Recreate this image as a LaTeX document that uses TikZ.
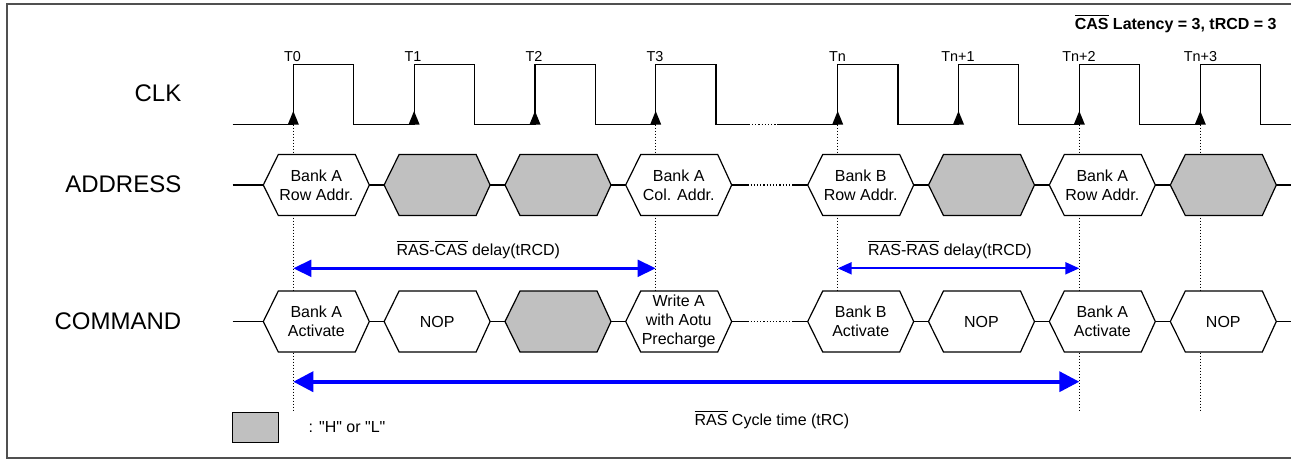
\documentclass[tikz,border=0pt]{standalone}
\usepackage{fontspec}
\setmainfont{Liberation Sans}[Ligatures=TeXOff]
\usepackage{tikz}
\usetikzlibrary{arrows.meta}
\usepackage{xcolor}
\definecolor{hl}{HTML}{C0C0C0}
\definecolor{framegray}{HTML}{505050}

\tikzset{
  wave/.style={line width=0.6pt},
  tick/.style={densely dotted,line width=0.5pt},
  hextext/.style={align=center,font=\fontsize{8}{9.4}\selectfont,inner sep=0pt},
  rowlabel/.style={anchor=east,font=\fontsize{12}{14}\selectfont,inner sep=0pt},
  edgelabel/.style={anchor=south,font=\fontsize{7.2}{8}\selectfont,inner sep=0pt},
  note/.style={anchor=base,font=\fontsize{8}{9}\selectfont,inner sep=0pt},
  rcd/.style={blue,line width=1.2pt,{Triangle[length=9pt,width=8.4pt]}-{Triangle[length=9pt,width=8.4pt]}},
  rrd/.style={blue,line width=1pt,{Triangle[length=7pt,width=6pt]}-{Triangle[length=7pt,width=6pt]}},
  rc/.style={blue,line width=1.8pt,{Triangle[length=10pt,width=10pt]}-{Triangle[length=10pt,width=10pt]}}
}
\newcommand{\hexa}[4]{%
  \filldraw[wave,fill=white] (#2-30,#3) -- (#2-15,#3-30.5) -- (#2+62,#3-30.5) -- (#2+76,#3) -- (#2+62,#3+30.5) -- (#2-15,#3+30.5) -- cycle;
  \node[hextext] (#1) at (#2+23,#3) {#4};}
\newcommand{\hexd}[2]{%
  \filldraw[wave,fill=hl] (#1-30,#2) -- (#1-15,#2-30.5) -- (#1+62,#2-30.5) -- (#1+76,#2) -- (#1+62,#2+30.5) -- (#1-15,#2+30.5) -- cycle;}

\begin{document}
\begin{tikzpicture}[x=0.5pt,y=-0.5pt]
\useasboundingbox (0,0) rectangle (1291,463);
\draw[line width=1pt,framegray] (6.7,4) rectangle (1295,457.7);
\node[anchor=base east,font=\bfseries\fontsize{8}{9}\selectfont,inner sep=0pt] (title) at (1277,29) {$\overline{\hbox{CAS}}$ Latency = 3, tRCD = 3};

\coordinate (c0) at (293.3,124.5);
\coordinate (c1) at (414.1,124.5);
\coordinate (c2) at (535,124.5);
\coordinate (c3) at (655.7,124.5);
\coordinate (cn) at (837.7,124.5);
\coordinate (cn1) at (958.5,124.5);
\coordinate (cn2) at (1079.3,124.5);
\coordinate (cn3) at (1200.3,124.5);
\coordinate (ctop) at (0,291.7);
\coordinate (bot) at (0,410.7);
\coordinate (yrcd) at (0,268.3);
\coordinate (yrc) at (0,381.7);

\node[rowlabel] (clk) at (181.7,93.7) {CLK};
\node[rowlabel] (addr) at (181.7,184.5) {ADDRESS};
\node[rowlabel] (cmd) at (181.7,321.5) {COMMAND};

\node[edgelabel] (l0) at (292.5,62) {T0};
\node[edgelabel] (l1) at (413,62) {T1};
\node[edgelabel] (l2) at (534,62) {T2};
\node[edgelabel] (l3) at (655,62) {T3};
\node[edgelabel] (ln) at (837.5,62) {Tn};
\node[edgelabel] (ln1) at (958,62) {Tn+1};
\node[edgelabel] (ln2) at (1079,62) {Tn+2};
\node[edgelabel] (ln3) at (1200.5,62) {Tn+3};

\draw[tick] (c0) -- (c0 |- bot);
\draw[tick] (c3) -- (c3 |- ctop);
\draw[tick] (cn) -- (cn |- ctop);
\draw[tick] (cn2) -- (cn2 |- bot);
\draw[tick] (cn3) -- (cn3 |- bot);

\draw[wave] (232.7,124.5) -- (c0) |- (353.6,64.3) |- (c1) |- (474.4,64.3) |- (c2) |- (595.3,64.3) |- (c3) |- (716,64.3) |- (748.8,124.5);
\draw[wave,densely dotted] (748.8,124.5) -- (777,124.5);
\draw[wave] (777,124.5) -- (cn) |- (898,64.3) |- (cn1) |- (1018.8,64.3) |- (cn2) |- (1139.6,64.3) |- (cn3) |- (1260.6,64.3) |- (1295,124.5);
\foreach \c in {c0,c1,c2,c3,cn,cn1,cn2,cn3}
  \fill (\c) ++(-5.5,0) -- ++(11,0) -- ++(-5.5,-13.5) -- cycle;

\draw[wave] (232.7,185) -- (747.3,185);
\draw[wave,densely dotted] (747.3,185) -- (793.3,185);
\draw[wave] (793.3,185) -- (1295,185);
\hexa{a0}{293.3}{185}{Bank A\\Row Addr.}
\hexd{414.1}{185}
\hexd{535}{185}
\hexa{a3}{655.7}{185}{Bank A\\Col. Addr.}
\hexa{an}{837.7}{185}{Bank B\\Row Addr.}
\hexd{958.5}{185}
\hexa{an2}{1079.3}{185}{Bank A\\Row Addr.}
\hexd{1200.3}{185}

\draw[wave] (232.7,321.5) -- (747.3,321.5);
\draw[wave,densely dotted] (747.3,321.5) -- (793.3,321.5);
\draw[wave] (793.3,321.5) -- (1295,321.5);
\hexa{m0}{293.3}{321.5}{Bank A\\Activate}
\hexa{m1}{414.1}{321.5}{NOP}
\hexd{535}{321.5}
\hexa{m3}{655.7}{321.5}{Write A\\with Aotu\\Precharge}
\hexa{mn}{837.7}{321.5}{Bank B\\Activate}
\hexa{mn1}{958.5}{321.5}{NOP}
\hexa{mn2}{1079.3}{321.5}{Bank A\\Activate}
\hexa{mn3}{1200.3}{321.5}{NOP}

\draw[rcd] (c0 |- yrcd) -- (c3 |- yrcd);
\node[note] (trcd) at (478.3,255.7) {$\overline{\hbox{RAS}}$-$\overline{\hbox{CAS}}$ delay(tRCD)};
\draw[rrd] (cn |- yrcd) -- (cn2 |- yrcd);
\node[note] (trrd) at (950,255.7) {$\overline{\hbox{RAS}}$-$\overline{\hbox{RAS}}$ delay(tRCD)};
\draw[rc] (c0 |- yrc) -- (cn2 |- yrc);
\node[note] (trc) at (772,425.7) {$\overline{\hbox{RAS}}$ Cycle time (tRC)};

\filldraw[wave,fill=hl] (232.7,412.3) rectangle (278.7,442.3);
\node[note,anchor=base west] (key) at (308.3,432.4) {: "H" or "L"};
\end{tikzpicture}
\end{document}
